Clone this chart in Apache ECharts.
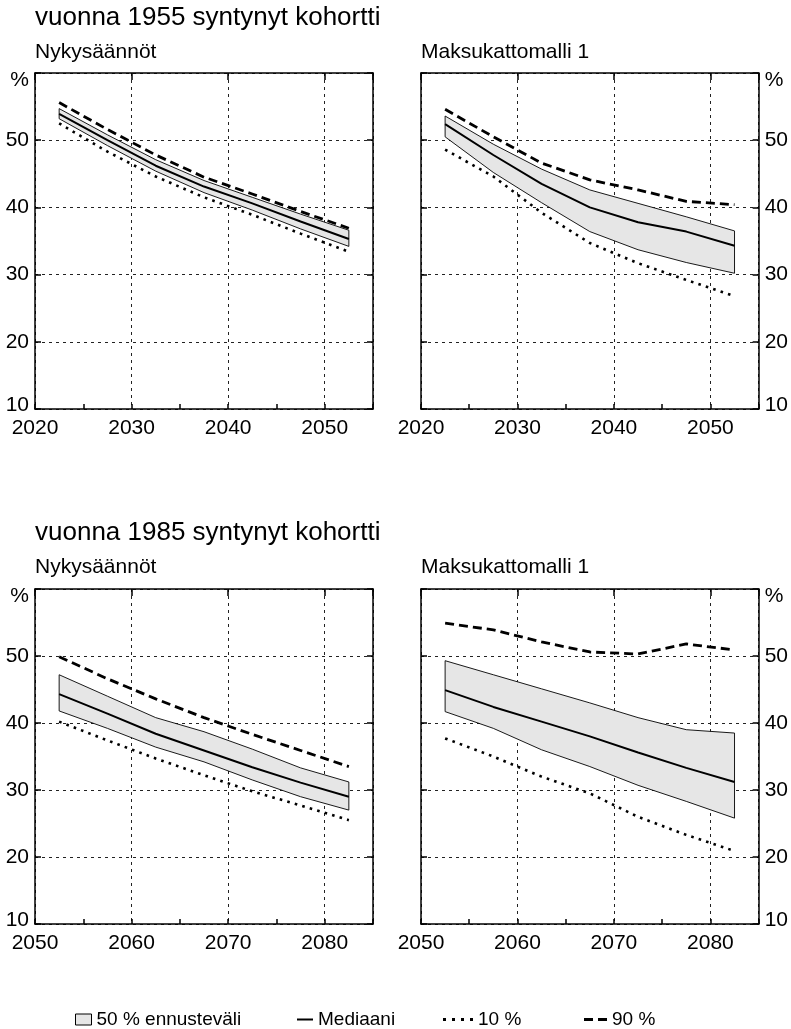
<!DOCTYPE html>
<html>
<head>
<meta charset="utf-8">
<script src="https://cdn.jsdelivr.net/npm/echarts@6.0.0/dist/echarts.min.js"></script>
<style>
  body { margin: 0; padding: 0; background: #fff; }
  #main { width: 791px; height: 1029px; }
</style>
<title>Kohortit</title>
</head>
<body>
<div id="main"></div>
<script>
// x values: 5-year period midpoints
var yearsA = [2022.5, 2027.5, 2032.5, 2037.5, 2042.5, 2047.5, 2052.5];
var yearsB = [2052.5, 2057.5, 2062.5, 2067.5, 2072.5, 2077.5, 2082.5];

// 1955 cohort, Nykysäännöt
var a1Median = [53.9, 50.0, 46.2, 43.1, 40.6, 37.9, 35.3];
var a1P25 = [53.2, 49.2, 45.4, 42.2, 39.6, 36.8, 34.2];
var a1P75 = [54.7, 50.8, 47.1, 44.0, 41.5, 39.0, 36.6];
var a1P10 = [52.5, 48.3, 44.6, 41.5, 38.9, 36.1, 33.4];
var a1P90 = [55.6, 51.6, 47.8, 44.5, 42.0, 39.4, 36.9];

// 1955 cohort, Maksukattomalli 1
var a2Median = [52.4, 47.8, 43.5, 40.0, 37.8, 36.4, 34.3];
var a2P25 = [50.5, 45.2, 40.7, 36.4, 33.7, 31.8, 30.2];
var a2P75 = [53.6, 49.4, 45.7, 42.6, 40.6, 38.6, 36.5];
var a2P10 = [48.6, 44.6, 39.2, 34.7, 31.7, 29.2, 26.8];
var a2P90 = [54.6, 50.5, 46.6, 44.1, 42.6, 40.9, 40.4];

// 1985 cohort, Nykysäännöt
var b1Median = [44.3, 41.4, 38.4, 35.9, 33.4, 31.1, 29.0];
var b1P25 = [41.8, 39.2, 36.4, 34.2, 31.5, 29.0, 27.0];
var b1P75 = [47.2, 44.0, 40.8, 38.7, 36.1, 33.3, 31.2];
var b1P10 = [40.2, 37.4, 34.7, 32.2, 29.8, 27.7, 25.5];
var b1P90 = [49.9, 46.6, 43.6, 40.8, 38.3, 35.9, 33.5];

// 1985 cohort, Maksukattomalli 1
var b2Median = [44.9, 42.4, 40.2, 38.0, 35.6, 33.3, 31.2];
var b2P25 = [41.7, 39.2, 36.0, 33.5, 30.7, 28.3, 25.8];
var b2P75 = [49.3, 47.2, 45.1, 43.0, 40.8, 39.0, 38.5];
var b2P10 = [37.7, 35.0, 32.0, 29.5, 26.0, 23.3, 20.9];
var b2P90 = [54.9, 53.9, 52.1, 50.6, 50.3, 51.8, 50.9];

var FONT = 'Liberation Sans, Arial, sans-serif';
var gridLine = { show: true, lineStyle: { color: '#222', width: 1, type: [3, 4] } };

var panels = [
  { left: 35, top: 73, h: 336, xmin: 2020, side: 'left', years: yearsA,
    med: a1Median, lo: a1P25, hi: a1P75, p10: a1P10, p90: a1P90 },
  { left: 421, top: 73, h: 336, xmin: 2020, side: 'right', years: yearsA,
    med: a2Median, lo: a2P25, hi: a2P75, p10: a2P10, p90: a2P90 },
  { left: 35, top: 589, h: 335, xmin: 2050, side: 'left', years: yearsB,
    med: b1Median, lo: b1P25, hi: b1P75, p10: b1P10, p90: b1P90 },
  { left: 421, top: 589, h: 335, xmin: 2050, side: 'right', years: yearsB,
    med: b2Median, lo: b2P25, hi: b2P75, p10: b2P10, p90: b2P90 }
];

function pairs(xs, ys) {
  return xs.map(function (x, i) { return [x, ys[i]]; });
}

var grids = [], xAxes = [], yAxes = [], series = [];

panels.forEach(function (p, g) {
  grids.push({ left: p.left, top: p.top, width: 338, height: p.h, containLabel: false });

  // bottom axis with labels and short ticks
  xAxes.push({
    gridIndex: g, type: 'value', position: 'bottom', min: p.xmin, max: p.xmin + 35, interval: 5,
    axisLine: { lineStyle: { color: '#000', width: 1.5 } },
    axisTick: { inside: true, length: 5, lineStyle: { color: '#000', width: 1.5 } },
    axisLabel: {
      color: '#000', fontSize: 21, fontFamily: FONT, margin: 9,
      formatter: function (v) { return v % 10 === 0 ? String(v) : ''; }
    },
    splitLine: { show: false }
  });
  // top axis, carries the vertical dotted grid lines
  xAxes.push({
    gridIndex: g, type: 'value', position: 'top', min: p.xmin, max: p.xmin + 35, interval: 10,
    axisLine: { lineStyle: { color: '#000', width: 1.5 } },
    axisTick: { inside: true, length: 7, lineStyle: { color: '#000', width: 1.5 } },
    axisLabel: { show: false },
    splitLine: gridLine
  });

  var other = p.side === 'left' ? 'right' : 'left';
  yAxes.push({
    gridIndex: g, type: 'value', position: p.side, min: 10, max: 60, interval: 10,
    axisLine: { lineStyle: { color: '#000', width: 1.5 } },
    axisTick: { inside: true, length: 6, lineStyle: { color: '#000', width: 1.5 } },
    axisLabel: {
      color: '#000', fontSize: 21, fontFamily: FONT, margin: 6,
      formatter: function (v) {
        if (v === 60) return '{p|%}';
        if (v === 10) return '{b|10}';
        return String(v);
      },
      rich: {
        p: { fontSize: 21, fontFamily: FONT, color: '#000', padding: [14, 0, 0, 0] },
        b: { fontSize: 21, fontFamily: FONT, color: '#000', padding: [0, 0, 8, 0] }
      }
    },
    splitLine: gridLine
  });
  yAxes.push({
    gridIndex: g, type: 'value', position: other, min: 10, max: 60, interval: 10,
    axisLine: { lineStyle: { color: '#000', width: 1.5 } },
    axisTick: { inside: true, length: 6, lineStyle: { color: '#000', width: 1.5 } },
    axisLabel: { show: false },
    splitLine: { show: false }
  });

  var xi = 2 * g, yi = 2 * g;

  series.push({
    type: 'custom', name: '50 % ennusteväli', xAxisIndex: xi, yAxisIndex: yi,
    data: pairs(p.years, p.hi), z: 1,
    itemStyle: { color: '#e6e6e6', borderColor: '#000', borderWidth: 1 },
    renderItem: function (params, api) {
      if (params.dataIndex !== 0) return null;
      var pts = [];
      for (var i = 0; i < p.years.length; i++) pts.push(api.coord([p.years[i], p.hi[i]]));
      for (var j = p.years.length - 1; j >= 0; j--) pts.push(api.coord([p.years[j], p.lo[j]]));
      return {
        type: 'polygon', shape: { points: pts },
        style: { fill: '#e6e6e6', stroke: '#000', lineWidth: 0.9 }
      };
    }
  });
  series.push({
    type: 'line', name: 'Mediaani', xAxisIndex: xi, yAxisIndex: yi, z: 3,
    data: pairs(p.years, p.med), symbol: 'none', color: '#000',
    lineStyle: { color: '#000', width: 2 }
  });
  series.push({
    type: 'line', name: '10 %', xAxisIndex: xi, yAxisIndex: yi, z: 3,
    data: pairs(p.years, p.p10), symbol: 'none', color: '#000',
    lineStyle: { color: '#000', width: 2.6, type: [2.6, 5.2] }
  });
  series.push({
    type: 'line', name: '90 %', xAxisIndex: xi, yAxisIndex: yi, z: 3,
    data: pairs(p.years, p.p90), symbol: 'none', color: '#000',
    lineStyle: { color: '#000', width: 2.8, type: [9, 5] }
  });
});

function heading(text, left, top, size) {
  return { text: text, left: left, top: top, padding: 0,
    textStyle: { fontSize: size, fontWeight: 'normal', color: '#000', fontFamily: FONT } };
}

var legendText = { fontSize: 19, color: '#000', fontFamily: FONT };

var chart = echarts.init(document.getElementById('main'), null, { renderer: 'canvas' });
chart.setOption({
  animation: false,
  backgroundColor: '#fff',
  title: [
    heading('vuonna 1955 syntynyt kohortti', 35, 5, 26),
    heading('Nykysäännöt', 35, 42, 21),
    heading('Maksukattomalli 1', 421, 42, 21),
    heading('vuonna 1985 syntynyt kohortti', 35, 520, 26),
    heading('Nykysäännöt', 35, 557, 21),
    heading('Maksukattomalli 1', 421, 557, 21)
  ],
  grid: grids,
  xAxis: xAxes,
  yAxis: yAxes,
  legend: [
    { left: 70, top: 1005, itemWidth: 16, itemHeight: 11, selectedMode: false, textStyle: legendText,
      data: [{ name: '50 % ennusteväli', icon: 'rect',
        itemStyle: { color: '#e6e6e6', borderColor: '#000', borderWidth: 1 } }] },
    { left: 292, top: 1005, itemWidth: 16, itemHeight: 2, selectedMode: false, textStyle: legendText,
      data: [{ name: 'Mediaani', icon: 'rect', itemStyle: { color: '#000', borderWidth: 0 } }] },
    { left: 438, top: 1005, itemWidth: 30, itemHeight: 3, selectedMode: false, textStyle: legendText,
      data: [{ name: '10 %', icon: 'path://M0,0h3v3h-3z M9,0h3v3h-3z M18,0h3v3h-3z M27,0h3v3h-3z',
        itemStyle: { color: '#000', borderWidth: 0 } }] },
    { left: 579, top: 1005, itemWidth: 23, itemHeight: 3, selectedMode: false, textStyle: legendText,
      data: [{ name: '90 %', icon: 'path://M0,0h9v3h-9z M14,0h9v3h-9z',
        itemStyle: { color: '#000', borderWidth: 0 } }] }
  ],
  series: series
});
</script>
</body>
</html>
